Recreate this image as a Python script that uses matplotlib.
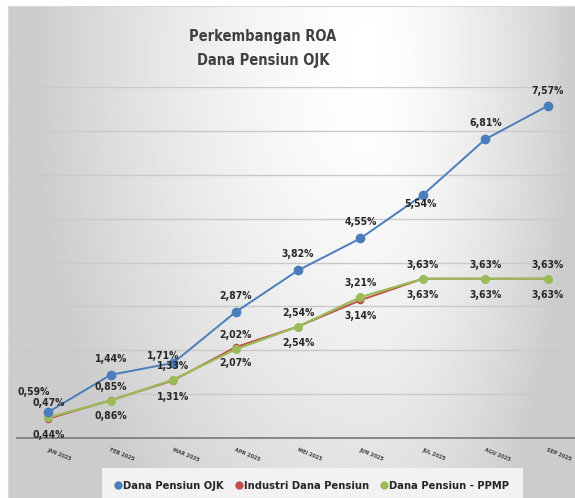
import numpy as np
import matplotlib
matplotlib.use("Agg")
import matplotlib.pyplot as plt
from matplotlib.lines import Line2D

plt.rcParams['font.family'] = ['DejaVu Sans']
plt.rcParams['font.stretch'] = 'condensed'

months = ["JAN 2025", "FEB 2025", "MAR 2025", "APR 2025", "MEI 2025",
          "JUN 2025", "JUL 2025", "AGU 2025", "SEP 2025"]
dapen_ojk = [0.59, 1.44, 1.71, 2.87, 3.82, 4.55, 5.54, 6.81, 7.57]
industri = [0.44, 0.86, 1.31, 2.07, 2.54, 3.14, 3.63, 3.63, 3.63]
ppmp = [0.47, 0.85, 1.33, 2.02, 2.54, 3.21, 3.63, 3.63, 3.63]

c_blue = '#4a7ebb'
c_red = '#c0504d'
c_green = '#9bbb59'
txt = '#262626'

W, H = 575, 498
fig = plt.figure(figsize=(W / 100, H / 100), dpi=100)
fig.patch.set_facecolor('white')

# soft grey gradient behind the chart
bg = fig.add_axes([8 / W, 0, (W - 8) / W, (H - 6) / H])
xx, yy = np.meshgrid(np.linspace(8, W, 300), np.linspace(6, H, 300))
dx = np.where(xx < 370, (xx - 370) / 340, (xx - 370) / 205)
dy = (yy - 60) / 600
d = np.clip(np.sqrt(dx ** 2 + dy ** 2), 0, 1)
shade = 1 - 0.2 * d ** 1.5
bg.imshow(shade, cmap='gray', vmin=0, vmax=1, aspect='auto',
          extent=[0, 1, 0, 1], origin='upper')
bg.set_xticks([])
bg.set_yticks([])
for s in bg.spines.values():
    s.set_color('#d9d9d9')
    s.set_linewidth(0.8)

ax = fig.add_axes([17 / W, (H - 438) / H, 562 / W, 351 / H])
ax.patch.set_alpha(0)
x = np.arange(len(months))

ax.set_xlim(-0.5, 8.5)
ax.set_ylim(0, 8)
ax.set_yticks(np.arange(0, 9))
ax.yaxis.grid(True, color='#c9c9c9', linewidth=1.0)
ax.set_axisbelow(True)
ax.tick_params(axis='y', left=False, labelleft=False)
for s in ['top', 'right', 'left']:
    ax.spines[s].set_visible(False)
ax.spines['bottom'].set_color('#7f7f7f')
ax.spines['bottom'].set_linewidth(1.3)

ax.set_xticks(x)
ax.set_xticklabels(months, rotation=-22, ha='left', va='top',
                   rotation_mode='anchor', fontsize=4, fontweight='bold',
                   color='#404040')
ax.tick_params(axis='x', length=0, pad=7)

ax.plot(x, dapen_ojk, color=c_blue, lw=1.4, marker='o', ms=6, zorder=4)
ax.plot(x, industri, color=c_red, lw=1.4, marker='o', ms=4.5, zorder=3)
ax.plot(x, ppmp, color=c_green, lw=1.6, marker='o', ms=5.5, zorder=3.5)


def fmt(v):
    return f"{v:.2f}%".replace(".", ",")


blue_off = [(-15, 20), (0, 16), (-10, 7), (0, 16), (0, 16), (0, 16),
            (-2, -9), (0, 16), (0, 15)]
for i, v in enumerate(dapen_ojk):
    ax.annotate(fmt(v), (x[i], v), xytext=blue_off[i], textcoords='offset pixels',
                ha='center', va='center', fontsize=7.5, fontweight='bold',
                color=txt, zorder=6)
for i, v in enumerate(ppmp):
    ax.annotate(fmt(v), (x[i], v), xytext=(0, 14), textcoords='offset pixels',
                ha='center', va='center', fontsize=7.5, fontweight='bold',
                color=txt, zorder=6)
for i, v in enumerate(industri):
    ax.annotate(fmt(v), (x[i], v), xytext=(0, -16), textcoords='offset pixels',
                ha='center', va='center', fontsize=7.5, fontweight='bold',
                color=txt, zorder=6)

fig.text(263 / W, 1 - 48 / H, "Perkembangan ROA\nDana Pensiun OJK",
         ha='center', va='center', fontsize=10.5, fontweight='bold',
         color='#404040', linespacing=1.75)

handles = [Line2D([], [], ls='none', marker='o', ms=5, color=c_blue),
           Line2D([], [], ls='none', marker='o', ms=5, color=c_red),
           Line2D([], [], ls='none', marker='o', ms=5, color=c_green)]
labels = ["Dana Pensiun OJK", "Industri Dana Pensiun", "Dana Pensiun - PPMP"]
leg = fig.legend(handles, labels, loc='upper left',
                 bbox_to_anchor=(102 / W, 1 - 468 / H), ncol=3,
                 fontsize=8, frameon=True, fancybox=False,
                 handlelength=0.4, handletextpad=0.25, columnspacing=1.2,
                 borderpad=1.2, borderaxespad=0)
leg.get_frame().set_facecolor('#f2f2f2')
leg.get_frame().set_edgecolor('none')
leg.get_frame().set_alpha(1)
for t in leg.get_texts():
    t.set_fontweight('bold')
    t.set_color(txt)

fig.savefig('out.png', dpi=100)
